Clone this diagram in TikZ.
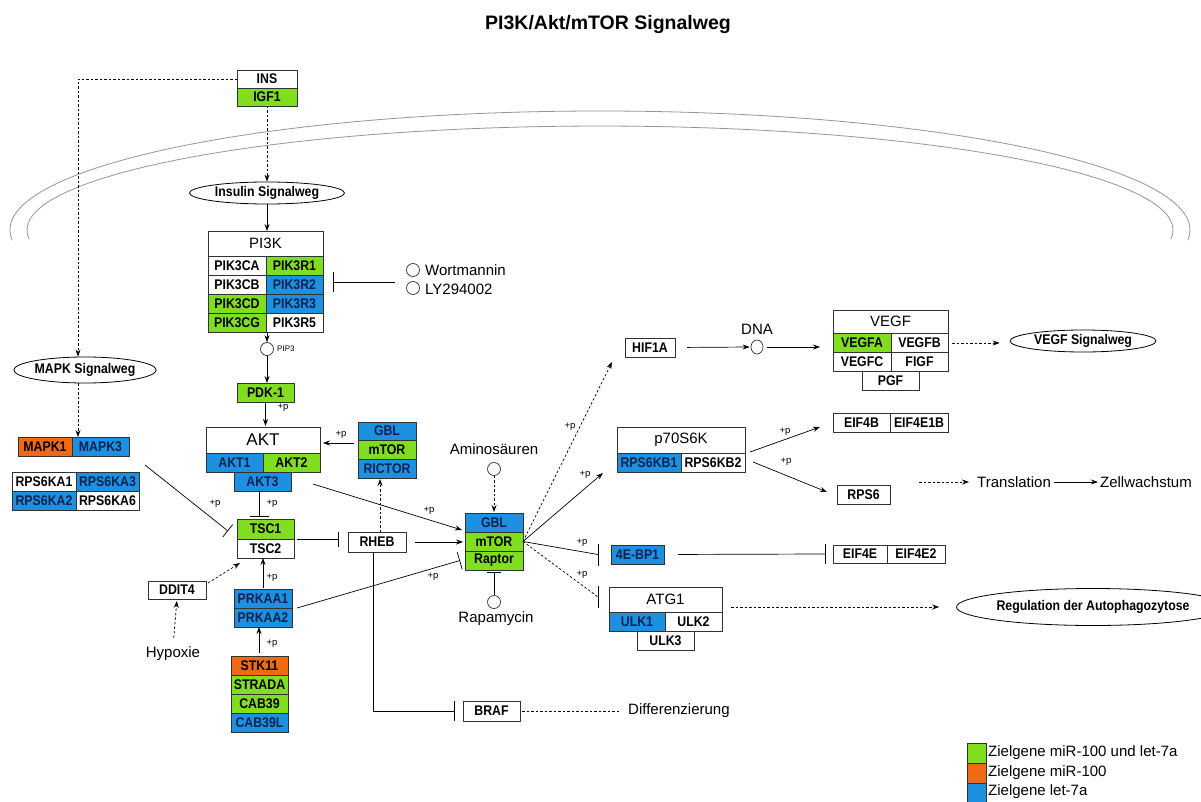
\documentclass[tikz,border=0pt]{standalone}
\usepackage{fontspec}
\setmainfont{Liberation Sans}
\newfontfamily\gfont[FakeStretch=0.88]{Liberation Sans}
\usetikzlibrary{arrows.meta,shapes.geometric}
\definecolor{gg}{RGB}{128,221,32}
\definecolor{go}{RGB}{240,105,20}
\definecolor{gb}{RGB}{30,144,224}
\definecolor{bd}{RGB}{50,50,50}
\definecolor{mem}{RGB}{150,150,150}
\definecolor{navy}{RGB}{10,35,80}
\tikzset{
 gene/.style={draw=bd, line width=0.8pt, anchor=north west, inner sep=0pt, outer sep=0pt, font=\gfont\fontsize{14}{14}\selectfont\bfseries, text=black},
 hd/.style={font=\fontsize{15}{15}\selectfont},
 hdk/.style={font=\fontsize{17}{17}\selectfont},
 cg/.style={fill=gg},
 co/.style={fill=go},
 cb/.style={fill=gb, text=navy},
 cw/.style={fill=white},
 ell/.style={ellipse, draw=black, line width=0.8pt, inner sep=0pt, font=\gfont\fontsize{14}{14}\selectfont\bfseries},
 lab/.style={font=\fontsize{15}{15}\selectfont, inner sep=0pt},
 pl/.style={font=\fontsize{9.5}{9.5}\selectfont, inner sep=0pt},
 act/.style={line width=0.7pt, -{Stealth[length=7pt,width=5pt]}},
 dact/.style={act, dash pattern=on 2.5pt off 2pt},
 inh/.style={line width=0.7pt, -{Bar[width=20pt]}},
 plain/.style={line width=0.7pt},
 dplain/.style={line width=0.7pt, dash pattern=on 2.5pt off 2pt},
 circ/.style={circle, draw=black!80, line width=0.7pt, minimum size=13pt, inner sep=0pt},
}
\newcommand{\gcell}[7]{\node[gene,#6,minimum width=#4pt,minimum height=#5pt] (#1) at (#2,#3) {#7};}
\begin{document}
\begin{tikzpicture}[x=1pt,y=-1pt]
\useasboundingbox (0,0) rectangle (1201,802);
\fill[white] (0,0) rectangle (1201,802);
% membrane
\draw[mem, line width=0.8pt] (12.25,240.37) arc[start angle=175, end angle=365, x radius=590, y radius=119];
\draw[mem, line width=0.8pt] (29.2,239.1) arc[start angle=175, end angle=365, x radius=573, y radius=104];
% title
\node[font=\fontsize{19.5}{19.5}\selectfont\bfseries] (title) at (608,25) {PI3K/Akt/mTOR Signalweg};
% INS
\gcell{INS}{237}{70}{60}{18}{cw}{INS}
\gcell{IGF1}{237}{88}{60}{18}{cg}{IGF1}
\node[ell, minimum width=155pt, minimum height=22pt] (insw) at (267,193) {Insulin Signalweg};
% PI3K
\gcell{PI3K}{208}{231}{115}{25}{cw,hd}{PI3K}
\gcell{PIK3CA}{208}{256}{58}{19}{cw}{PIK3CA}
\gcell{PIK3R1}{266}{256}{57}{19}{cg}{PIK3R1}
\gcell{PIK3CB}{208}{275}{58}{19}{cw}{PIK3CB}
\gcell{PIK3R2}{266}{275}{57}{19}{cb}{PIK3R2}
\gcell{PIK3CD}{208}{294}{58}{19}{cg}{PIK3CD}
\gcell{PIK3R3}{266}{294}{57}{19}{cb}{PIK3R3}
\gcell{PIK3CG}{208}{313}{58}{19}{cg}{PIK3CG}
\gcell{PIK3R5}{266}{313}{57}{19}{cw}{PIK3R5}
\node[circ] (cWort) at (413,270) {};
\node[circ] (cLY) at (413,288) {};
\node[lab, anchor=west] (wort) at (425,270) {Wortmannin};
\node[lab, anchor=west] (ly) at (425,289) {LY294002};
\coordinate (winh) at (395,282);
\node[circ] (pip) at (267,349) {};
\node[pl, anchor=west, font=\fontsize{8}{8}\selectfont] (piplab) at (277,349) {PIP3};
\gcell{PDK1}{237}{383}{57}{19}{cg}{PDK-1}
% AKT
\gcell{AKT}{206}{427}{114}{26}{cw,hdk}{AKT}
\gcell{AKT1}{206}{453}{57}{19}{cb}{AKT1}
\gcell{AKT2}{263}{453}{57}{19}{cg}{AKT2}
\gcell{AKT3}{234}{472}{57}{19}{cb}{AKT3}
\gcell{GBLa}{358}{422}{58}{18}{cb}{GBL}
\gcell{mTORa}{358}{440}{58}{19}{cg}{mTOR}
\gcell{RICTOR}{358}{459}{58}{19}{cb}{RICTOR}
% TSC, RHEB
\gcell{TSC1}{237}{519}{57}{20}{cg}{TSC1}
\gcell{TSC2}{237}{539}{57}{19}{cw}{TSC2}
\gcell{RHEB}{348}{532}{58}{20}{cw}{RHEB}
% mTORC1
\gcell{GBLb}{465}{513}{58}{19}{cb}{GBL}
\gcell{mTORb}{465}{532}{58}{19}{cg}{mTOR}
\gcell{Raptor}{465}{551}{58}{19}{cg}{Raptor}
% AMPK
\gcell{PRKAA1}{234}{589}{58}{19}{cb}{PRKAA1}
\gcell{PRKAA2}{234}{608}{58}{19}{cb}{PRKAA2}
\gcell{STK11}{231}{656}{57}{19}{co}{STK11}
\gcell{STRADA}{231}{675}{57}{19}{cg}{STRADA}
\gcell{CAB39}{231}{694}{57}{19}{cg}{CAB39}
\gcell{CAB39L}{231}{713}{57}{19}{cb}{CAB39L}
\gcell{DDIT4}{148}{581}{58}{18}{cw}{DDIT4}
\node[lab] (hyp) at (173,654) {Hypoxie};
% MAPK
\node[ell, minimum width=139pt, minimum height=26pt] (mapkw) at (85,370) {MAPK Signalweg};
\gcell{MAPK1}{18}{437}{54}{19}{co}{MAPK1}
\gcell{MAPK3}{72}{437}{57}{19}{cb}{MAPK3}
\gcell{RPS6KA1}{12}{472}{64}{19}{cw}{RPS6KA1}
\gcell{RPS6KA3}{76}{472}{63}{19}{cb}{RPS6KA3}
\gcell{RPS6KA2}{12}{491}{64}{19}{cb}{RPS6KA2}
\gcell{RPS6KA6}{76}{491}{63}{19}{cw}{RPS6KA6}
% amino acids, rapamycin
\node[lab] (amino) at (494,449) {Aminosäuren};
\node[circ] (cAm) at (494,469) {};
\node[circ] (cRap) at (494,602) {};
\node[lab] (rapa) at (496,619) {Rapamycin};
% HIF / VEGF
\gcell{HIF1A}{625}{338}{50}{19}{cw}{HIF1A}
\node[circ, minimum width=12pt, minimum height=14pt, ellipse] (dna) at (757,347) {};
\node[lab] (dnalab) at (757,329) {DNA};
\gcell{VEGF}{833}{310}{115}{23}{cw,hd}{VEGF}
\gcell{VEGFA}{833}{333}{58}{19}{cg}{VEGFA}
\gcell{VEGFB}{891}{333}{57}{19}{cw}{VEGFB}
\gcell{VEGFC}{833}{352}{58}{19}{cw}{VEGFC}
\gcell{FIGF}{891}{352}{57}{19}{cw}{FIGF}
\gcell{PGF}{862}{371}{57}{19}{cw}{PGF}
\node[ell, minimum width=146pt, minimum height=22pt] (vegfw) at (1083,341) {VEGF Signalweg};
% p70
\gcell{p70}{617}{427}{128}{26}{cw,hd}{p70S6K}
\gcell{RPS6KB1}{617}{453}{64}{19}{cb}{RPS6KB1}
\gcell{RPS6KB2}{681}{453}{64}{19}{cw}{RPS6KB2}
\gcell{EIF4B}{833}{413}{57}{19}{cw}{EIF4B}
\gcell{EIF4E1B}{890}{413}{58}{19}{cw}{EIF4E1B}
\gcell{RPS6}{837}{485}{53}{19}{cw}{RPS6}
\node[lab, anchor=west] (trans) at (977,482) {Translation};
\node[lab, anchor=east] (zell) at (1192,482) {Zellwachstum};
% 4E-BP1, ATG1
\gcell{E4BP1}{611}{545}{53}{19}{cb}{4E-BP1}
\gcell{EIF4E}{833}{545}{54}{18}{cw}{EIF4E}
\gcell{EIF4E2}{887}{545}{58}{18}{cw}{EIF4E2}
\gcell{ATG1}{609}{587}{113}{25}{cw,hd}{ATG1}
\gcell{ULK1}{609}{612}{56}{19}{cb}{ULK1}
\gcell{ULK2}{665}{612}{57}{19}{cw}{ULK2}
\gcell{ULK3}{637}{631}{57}{19}{cw}{ULK3}
\node[ell, minimum width=207pt, minimum height=37pt] (autow) at (1093,607) {Regulation der Autophagozytose};
% BRAF
\gcell{BRAF}{463}{701}{57}{20}{cw}{BRAF}
\node[lab, anchor=west] (diff) at (628,711) {Differenzierung};
% legend
\gcell{lg1}{967}{743}{19}{20}{cg}{}
\gcell{lg2}{967}{763}{19}{20}{co}{}
\gcell{lg3}{967}{783}{19}{20}{cb}{}
\node[lab, anchor=west] (lt1) at (988,753) {Zielgene miR-100 und let-7a};
\node[lab, anchor=west] (lt2) at (988,773) {Zielgene miR-100};
\node[lab, anchor=west] (lt3) at (988,792) {Zielgene let-7a};

% ---------- connectors ----------
\draw[dact] (INS.west) -| ([xshift=-7]mapkw.north);
\draw[dact] (IGF1.south) -- (insw.north);
\draw[act] (insw.south) -- (insw.south |- PI3K.north);
\draw[inh, -{Bar[width=20pt]}, shorten >=10pt] (winh) -- (winh -| PIK3R2.east);
\draw[act, shorten <=1pt] (pip.north |- PIK3CG.south) -- (pip.north);
\draw[act] (pip.south) -- (pip.south |- PDK1.north);
\draw[act, shorten >=1pt] (PDK1.south) -- (PDK1.south |- AKT.north);
\draw[act, shorten <=4pt, shorten >=3pt] (GBLa.west |- 0,443) -- (AKT.east |- 0,443);
\draw[dact, shorten >=1pt] (380,0 |- RHEB.north) -- (380,0 |- RICTOR.south);
\draw[inh, -{Bar[width=19pt]}, shorten >=2pt] (259,0 |- AKT3.south) -- (259,0 |- TSC1.north);
\draw[inh, -{Bar[width=16pt]}] ([shift={(6,-7)}]RPS6KA3.north east) -- ([shift={(-9,2)}]TSC1.west);
\draw[inh, -{Bar[width=15pt]}, shorten <=3pt, shorten >=9pt] (TSC2.east |- 0,539) -- (RHEB.west |- 0,539);
\draw[act, shorten <=9pt, shorten >=2pt] (RHEB.east |- 0,542) -- (GBLb.west |- 0,542);
\draw[act] ([shift={(22,-7)}]AKT3.south east) -- ([shift={(-3,-2)}]GBLb.south west);
\draw[act, shorten <=1pt] (263,0 |- PRKAA1.north) -- (263,0 |- TSC2.south);
\draw[inh, -{Bar[width=18pt]}] ([xshift=5]PRKAA1.south east) -- ([xshift=-5]Raptor.west);
\draw[act, shorten <=3pt] (259,0 |- STK11.north) -- (259,0 |- PRKAA2.south);
\draw[dact] ([shift={(2,2)}]DDIT4.north east) -- ([shift={(3,5)}]TSC2.south west);
\draw[dact, shorten <=9pt, shorten >=2pt] (hyp.north) -- (DDIT4.south);
\draw[dact] ([xshift=-7]mapkw.south) -- (78,0 |- MAPK3.north);
\draw[dact, shorten >=1pt] (cAm.south) -- (cAm.south |- GBLb.north);
\draw[inh, -{Bar[width=14pt]}, shorten >=2pt] (cRap.north) -- (cRap.north |- Raptor.south);
% mTORC1 outputs
\draw[dact] (mTORb.east) -- ([shift={(-13,5)}]HIF1A.south west);
\draw[act] (mTORb.east) -- ([shift={(-14,1)}]RPS6KB1.south west);
\coordinate (bar4e) at ([xshift=-13]E4BP1.west);
\draw[plain] (mTORb.east) -- (bar4e);
\draw[plain] ([yshift=-11]bar4e) -- ([yshift=11]bar4e);
\coordinate (baratg) at ([shift={(-11,-2.5)}]ATG1.west);
\draw[dplain] (mTORb.east) -- (baratg);
\draw[plain] ([yshift=-11]baratg) -- ([yshift=11]baratg);
% HIF / VEGF
\draw[act, shorten <=12pt, shorten >=1pt] (HIF1A.east) -- (dna.west);
\draw[act, shorten <=4pt, shorten >=13pt] (dna.east) -- (VEGFA.west |- dna.east);
\draw[dact, shorten <=4pt, shorten >=10pt] (VEGFB.east |- 0,343) -- (vegfw.west |- 0,343);
% p70 outputs
\draw[act] ([shift={(5,-1)}]RPS6KB2.north east) -- ([shift={(-13,14)}]EIF4B.north west);
\draw[act] ([shift={(8,9)}]RPS6KB2.north east) -- ([shift={(-10,7)}]RPS6.north west);
\draw[dact, shorten >=8pt] ([shift={(29,-3)}]RPS6.north east) -- (trans.west);
\draw[act, shorten <=3pt, shorten >=2pt] (trans.east) -- (zell.west);
\coordinate (bareif) at ([xshift=-8]EIF4E.west);
\draw[plain, shorten <=14pt] (E4BP1.east) -- (bareif);
\draw[plain] ([yshift=-10]bareif) -- ([yshift=10]bareif);
\draw[dact, shorten <=9pt, shorten >=17pt] (ATG1.east |- 0,607) -- (autow.west |- 0,607);
% RHEB -> BRAF
\draw[inh, -{Bar[width=20pt]}, shorten >=8pt] ([xshift=-4]RHEB.south) |- (BRAF.west);
\draw[dplain, shorten <=2pt, shorten >=8pt] (BRAF.east) -- (diff.west);
% +p labels
\node[pl] (p1) at (283,408) {+p};
\node[pl] (p2) at (341,435) {+p};
\node[pl] (p3) at (272,504) {+p};
\node[pl] (p4) at (215,504) {+p};
\node[pl] (p5) at (429,511) {+p};
\node[pl] (p6) at (272,578) {+p};
\node[pl] (p7) at (433,577) {+p};
\node[pl] (p8) at (272,644) {+p};
\node[pl] (p9) at (570,427) {+p};
\node[pl] (p10) at (585,475) {+p};
\node[pl] (p11) at (582,543) {+p};
\node[pl] (p12) at (582,575) {+p};
\node[pl] (p13) at (785,432) {+p};
\node[pl] (p14) at (786,462) {+p};
\end{tikzpicture}
\end{document}
